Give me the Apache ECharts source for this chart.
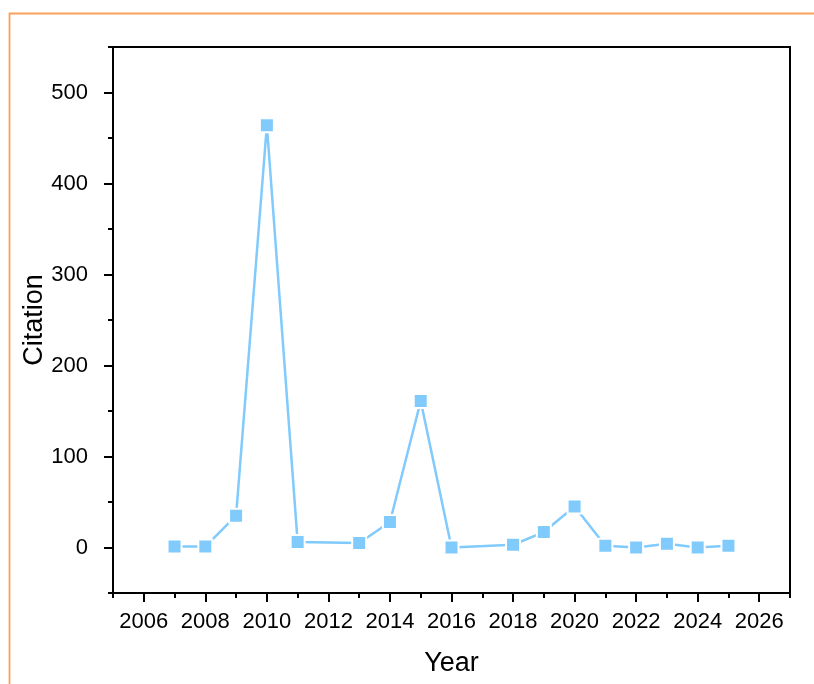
<!DOCTYPE html>
<html>
<head>
<meta charset="utf-8">
<script src="https://cdn.jsdelivr.net/npm/echarts@6/dist/echarts.min.js"></script>
<style>
  html, body { margin: 0; padding: 0; background: #fff; }
  #chart { width: 814px; height: 684px; }
</style>
</head>
<body>
<div id="chart"></div>
<script>
// Citations per publication year
const years = [2007, 2008, 2009, 2010, 2011, 2013, 2014, 2015, 2016, 2018, 2019, 2020, 2021, 2022, 2023, 2024, 2025];
const citations = [1, 1, 35, 464, 6, 5, 28, 161, 0, 3, 17, 45, 2, 0, 4, 0, 2];

// Axis tick labels
const xTickLabels = [2006, 2008, 2010, 2012, 2014, 2016, 2018, 2020, 2022, 2024, 2026];
const yTickLabels = [0, 100, 200, 300, 400, 500];

const lineColor = '#80CAFC';
const fontFamily = '"Liberation Sans", Arial, sans-serif';

const chart = echarts.init(document.getElementById('chart'), null, { renderer: 'canvas' });

const baseX = {
  type: 'value', min: 2005, max: 2027, interval: 1,
  splitLine: { show: false }
};
const baseY = {
  type: 'value', min: -50, max: 550, interval: 50,
  splitLine: { show: false }
};

chart.setOption({
  animation: false,
  backgroundColor: '#fff',
  graphic: [{
    type: 'rect',
    shape: { x: 9.5, y: 13.5, width: 1200, height: 1200 },
    style: { fill: 'none', stroke: '#F9A05C', lineWidth: 1.8 },
    silent: true
  }],
  grid: {
    left: 113, right: 24, top: 47, bottom: 91,
    show: true, borderColor: '#000', borderWidth: 2, backgroundColor: 'transparent'
  },
  xAxis: [
    Object.assign({}, baseX, {
      position: 'bottom',
      name: 'Year', nameLocation: 'middle', nameGap: 57, nameMoveOverlap: false,
      nameTextStyle: { fontFamily, fontSize: 27, color: '#000' },
      axisLine: { show: true, onZero: false, lineStyle: { color: '#000', width: 2 } },
      axisTick: { show: true, inside: false, length: 5, lineStyle: { color: '#000', width: 2 } },
      axisLabel: {
        show: true, margin: 18, fontFamily, fontSize: 22, color: '#000',
        customValues: xTickLabels,
        formatter: v => String(v)
      }
    }),
    Object.assign({}, baseX, {
      position: 'bottom',
      axisLine: { show: false, onZero: false },
      axisTick: { show: true, inside: false, length: 9, customValues: xTickLabels, lineStyle: { color: '#000', width: 2 } },
      axisLabel: { show: false }
    })
  ],
  yAxis: [
    Object.assign({}, baseY, {
      position: 'left',
      name: 'Citation', nameLocation: 'middle', nameGap: 65, nameRotate: 90, nameMoveOverlap: false,
      nameTextStyle: { fontFamily, fontSize: 27, color: '#000' },
      axisLine: { show: true, onZero: false, lineStyle: { color: '#000', width: 2 } },
      axisTick: { show: true, inside: false, length: 5, lineStyle: { color: '#000', width: 2 } },
      axisLabel: {
        show: true, margin: 25, fontFamily, fontSize: 22, color: '#000',
        customValues: yTickLabels,
        formatter: v => String(v)
      }
    }),
    Object.assign({}, baseY, {
      position: 'left',
      axisLine: { show: false, onZero: false },
      axisTick: { show: true, inside: false, length: 9, customValues: yTickLabels, lineStyle: { color: '#000', width: 2 } },
      axisLabel: { show: false }
    })
  ],
  series: [{
    type: 'line',
    xAxisIndex: 0, yAxisIndex: 0,
    data: years.map((y, i) => [y, citations[i]]),
    symbol: 'rect',
    symbolSize: 14,
    lineStyle: { color: lineColor, width: 2.5 },
    itemStyle: { color: lineColor, borderColor: '#fff', borderWidth: 2 },
    z: 3
  }]
});
</script>
</body>
</html>
